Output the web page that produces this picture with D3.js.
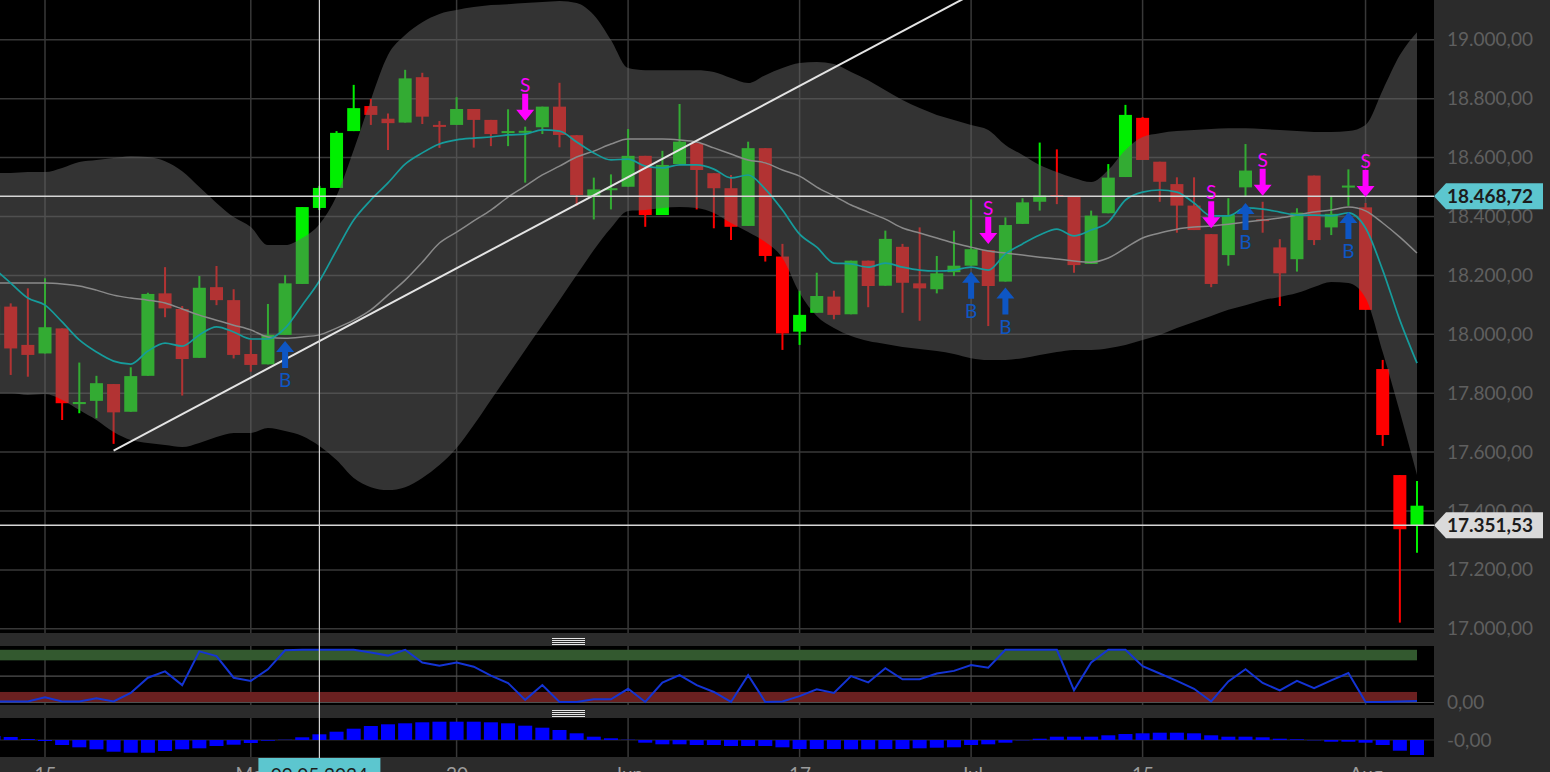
<!DOCTYPE html>
<html><head><meta charset="utf-8">
<script src="https://cdn.jsdelivr.net/npm/d3@7"></script>
<style>
html,body{margin:0;padding:0;background:#000;overflow:hidden}
svg{display:block;font-family:Lato,"Open Sans",sans-serif}
</style></head><body>
<svg id="chart" width="1550" height="772"></svg>
<script>
// ---------------- DATA ----------------
const dates = ["2024-04-10","2024-04-11","2024-04-12","2024-04-15","2024-04-16","2024-04-17","2024-04-18","2024-04-19","2024-04-22","2024-04-23","2024-04-24","2024-04-25","2024-04-26","2024-04-29","2024-04-30","2024-05-02","2024-05-03","2024-05-06","2024-05-07","2024-05-08","2024-05-09","2024-05-10","2024-05-13","2024-05-14","2024-05-15","2024-05-16","2024-05-17","2024-05-20","2024-05-21","2024-05-22","2024-05-23","2024-05-24","2024-05-27","2024-05-28","2024-05-29","2024-05-30","2024-05-31","2024-06-03","2024-06-04","2024-06-05","2024-06-06","2024-06-07","2024-06-10","2024-06-11","2024-06-12","2024-06-13","2024-06-14","2024-06-17","2024-06-18","2024-06-19","2024-06-20","2024-06-21","2024-06-24","2024-06-25","2024-06-26","2024-06-27","2024-06-28","2024-07-01","2024-07-02","2024-07-03","2024-07-04","2024-07-05","2024-07-08","2024-07-09","2024-07-10","2024-07-11","2024-07-12","2024-07-15","2024-07-16","2024-07-17","2024-07-18","2024-07-19","2024-07-22","2024-07-23","2024-07-24","2024-07-25","2024-07-26","2024-07-29","2024-07-30","2024-07-31","2024-08-01","2024-08-02","2024-08-05","2024-08-06"];

const open  = [17964,18094,17964,17935,18020,17763,17774,17831,17737,17859,18139,18086,17920,18160,18116,17933,17898,17998,18171,18429,18497,18690,18775,18732,18719,18873,18711,18711,18765,18728,18685,18687,18703,18773,18676,18467,18490,18501,18606,18405,18578,18649,18547,18496,18368,18632,18264,18009,18073,18128,18068,18250,18165,18297,18173,18153,18211,18233,18286,18179,18375,18450,18473,18470,18239,18411,18534,18735,18586,18510,18437,18340,18269,18499,18391,18295,18255,18539,18363,18501,18431,17882,17522,17350];
const high  = [18116,18105,18156,18190,18020,17904,17859,17831,17888,18141,18228,18096,18198,18232,18153,17981,18103,18201,18432,18504,18690,18847,18799,18750,18898,18888,18724,18805,18765,18728,18764,18705,18773,18854,18676,18532,18543,18697,18606,18623,18782,18649,18547,18541,18654,18632,18307,18148,18209,18148,18250,18250,18352,18307,18363,18266,18352,18458,18286,18397,18462,18651,18628,18470,18420,18578,18779,18738,18586,18533,18533,18340,18462,18646,18450,18323,18428,18539,18470,18560,18446,17913,17522,17502];
const low   = [17940,17862,17856,17935,17709,17732,17715,17628,17737,17859,18058,17792,17920,18099,17918,17873,17898,17998,18171,18422,18497,18690,18711,18626,18719,18714,18633,18711,18634,18639,18639,18515,18680,18635,18437,18390,18424,18501,18365,18405,18578,18424,18360,18320,18368,18247,17947,17964,18073,18051,18068,18092,18165,18073,18046,18139,18198,18233,18028,18179,18375,18420,18442,18209,18239,18411,18534,18592,18450,18345,18354,18160,18233,18466,18345,18096,18213,18303,18337,18436,18083,17621,17021,17258];
const close = [18099,17952,17930,18024,17766,17770,17834,17735,17858,18137,18088,17916,18158,18116,17930,17896,17998,18173,18432,18497,18684,18768,18745,18717,18869,18739,18705,18765,18728,18680,18690,18691,18773,18677,18473,18492,18496,18606,18405,18575,18654,18558,18496,18365,18632,18266,18003,18066,18130,18066,18250,18164,18324,18175,18156,18207,18233,18289,18164,18371,18448,18471,18467,18235,18403,18532,18745,18592,18518,18437,18354,18171,18405,18556,18386,18207,18413,18320,18409,18505,18083,17658,17338,17418];

const upperBand  = [18548,18548,18551,18551,18565,18585,18592,18599,18605,18602,18588,18554,18500,18446,18398,18364,18303,18303,18327,18374,18470,18626,18796,18948,19016,19060,19088,19101,19111,19118,19121,19125,19128,19132,19125,19084,18999,18904,18897,18897,18897,18897,18891,18870,18853,18880,18904,18921,18925,18918,18891,18863,18829,18796,18768,18745,18728,18711,18694,18643,18609,18575,18551,18531,18517,18558,18626,18670,18683,18690,18694,18697,18700,18700,18697,18694,18690,18687,18687,18690,18711,18829,18948,19026];
const middleBand = [18174,18174,18174,18174,18171,18164,18150,18133,18123,18116,18106,18086,18065,18048,18031,18015,17991,17987,17991,17998,18021,18048,18083,18133,18184,18245,18310,18347,18385,18422,18466,18503,18541,18571,18602,18622,18646,18663,18663,18663,18660,18653,18633,18612,18592,18582,18558,18537,18500,18470,18439,18415,18391,18361,18344,18327,18310,18296,18283,18276,18269,18262,18256,18249,18245,18259,18293,18327,18344,18357,18364,18368,18374,18381,18388,18395,18405,18415,18422,18432,18419,18378,18330,18276];
const lowerBand  = [17801,17801,17794,17797,17777,17743,17709,17668,17641,17631,17624,17617,17631,17651,17665,17665,17682,17672,17655,17621,17573,17512,17481,17471,17481,17512,17556,17614,17692,17777,17862,17947,18031,18116,18201,18286,18361,18419,18422,18429,18432,18429,18412,18378,18347,18313,18259,18140,18062,18021,17994,17977,17967,17957,17950,17943,17933,17919,17913,17913,17919,17930,17940,17947,17947,17953,17964,17981,17998,18021,18042,18062,18083,18099,18116,18127,18140,18161,18178,18174,18123,17940,17736,17522];
const fastAverage = [18225,18174,18123,18099,18042,17981,17940,17909,17899,17943,17970,17960,17998,18025,18008,17984,17984,18021,18099,18181,18286,18388,18456,18514,18578,18616,18646,18660,18666,18670,18677,18680,18694,18690,18653,18616,18592,18595,18571,18565,18575,18575,18561,18531,18541,18493,18422,18340,18296,18242,18239,18228,18242,18228,18218,18215,18218,18228,18218,18273,18307,18337,18357,18334,18354,18381,18456,18483,18490,18483,18446,18402,18402,18429,18425,18415,18405,18405,18402,18412,18361,18218,18048,17902];

const oscillator = [2,2,2,10,2,2,8,2,18,47,59,33,97,88,47,41,63,99,100,100,100,100,95,89,100,76,70,76,68,51,37,5,33,1,1,6,6,26,1,38,52,33,20,1,52,1,2,12,25,18,50,38,65,44,44,55,60,71,66,100,100,100,100,23,76,100,100,69,55,41,26,2,40,63,37,23,41,27,42,56,1,1,2,3];
const histogram  = [4,3,1,-1,-5,-7.3,-9.3,-11.7,-12.7,-12.7,-11,-9.3,-8.3,-6,-4.7,-3,-0.7,0.3,2.7,5.7,8.3,11.3,14,15.7,16.7,17.7,18.3,18.3,18.3,17.7,16.7,14.3,12.3,10,6.7,3.3,1.7,0.3,-2.7,-4.3,-4.3,-5,-5,-6,-6,-6,-7.3,-9,-9,-9,-9.3,-9.3,-9,-9,-8.3,-7.7,-7.3,-5,-4.3,-2.7,-0.3,1.3,3.3,3.3,3.3,4.7,6,6.7,7.3,7.3,6.7,4.7,3.3,3.3,2.7,1.3,0.7,-0.3,-1.7,-1.7,-2.7,-5,-10.7,-15];

const sellSignals = ["2024-05-24","2024-07-02","2024-07-19","2024-07-24","2024-08-01"];
const buySignals  = ["2024-05-06","2024-07-01","2024-07-03","2024-07-23","2024-07-31"];

const trendStart = ["2024-04-19", 17605];
const trendEnd   = ["2024-07-03", 19215];

const priceLines = [18468.72, 17351.53];
const crossDate = "2024-05-08";
const crossLabel = "09.05.2024";

const priceTicks = [17000,17200,17400,17600,17800,18000,18200,18400,18600,18800,19000];
const xTickDates  = ["2024-04-15","2024-05-02","2024-05-20","2024-06-03","2024-06-17","2024-07-01","2024-07-15","2024-08-01"];
const xTickLabels = ["15","Mai","20","Jun","17","Jul","15","Aug"];

// ---------------- LAYOUT ----------------
const W = 1550, H = 772, plotR = 1434;
const mainTop = 0, mainBot = 633, ind1Top = 646, ind1Bot = 705, ind2Top = 718, ind2Bot = 757;
const svg = d3.select("#chart");
const de = d3.formatLocale({decimal: ",", thousands: ".", grouping: [3], currency: ["", ""]});
const fmt = de.format(",.2f");

const x = d3.scalePoint().domain(dates).range([-6.45, 1417]);
const y = d3.scaleLinear().domain([17000, 19000]).range([628.8, 39.8]);
const yo = d3.scaleLinear().domain([0, 100]).range([702.5, 649.8]);
const yh = d3.scaleLinear().domain([-17, 17]).range([757, 723]);

svg.append("rect").attr("width", W).attr("height", H).attr("fill", "#000");
svg.append("rect").attr("x", plotR).attr("width", W - plotR).attr("height", H).attr("fill", "#2b2b2b");
[[mainBot, ind1Top], [ind1Bot, ind2Top], [ind2Bot, H]].forEach(([a, b]) =>
  svg.append("rect").attr("x", 0).attr("y", a).attr("width", W).attr("height", b - a).attr("fill", "#2b2b2b"));

const defs = svg.append("defs");
defs.append("clipPath").attr("id", "clipMain").append("rect").attr("x", 0).attr("y", mainTop).attr("width", plotR).attr("height", mainBot - mainTop);
defs.append("clipPath").attr("id", "clipInd1").append("rect").attr("x", 0).attr("y", ind1Top).attr("width", plotR).attr("height", ind1Bot - ind1Top);
defs.append("clipPath").attr("id", "clipInd2").append("rect").attr("x", 0).attr("y", ind2Top).attr("width", plotR).attr("height", ind2Bot - ind2Top);

const gridColor = "#383838";
// ---------- main panel ----------
const gm = svg.append("g").attr("clip-path", "url(#clipMain)");
gm.selectAll("line.hg").data(priceTicks).join("line")
  .attr("x1", 0).attr("x2", plotR).attr("y1", d => y(d)).attr("y2", d => y(d))
  .attr("stroke", gridColor).attr("stroke-width", 1.5);
gm.selectAll("line.vg").data(xTickDates).join("line")
  .attr("x1", d => x(d)).attr("x2", d => x(d)).attr("y1", mainTop).attr("y2", mainBot)
  .attr("stroke", gridColor).attr("stroke-width", 1.5);

const candles = dates.map((d, k) => ({d, o: open[k], h: high[k], l: low[k], c: close[k]}));
const col = c => c.c >= c.o ? "#00f000" : "#ff0000";
const cg = gm.append("g");
cg.selectAll("line").data(candles).join("line")
  .attr("x1", d => x(d.d)).attr("x2", d => x(d.d))
  .attr("y1", d => y(d.h)).attr("y2", d => y(d.l))
  .attr("stroke", col).attr("stroke-width", 2);
cg.selectAll("rect").data(candles).join("rect")
  .attr("x", d => x(d.d) - 6.5).attr("width", 13)
  .attr("y", d => y(Math.max(d.o, d.c)))
  .attr("height", d => Math.max(2, Math.abs(y(d.o) - y(d.c))))
  .attr("fill", col);

// Bollinger band overlay
const bandData = dates.map((d, k) => ({d, u: upperBand[k], m: middleBand[k], l: lowerBand[k], f: fastAverage[k]}));
gm.append("path").datum(bandData)
  .attr("d", d3.area().x(d => x(d.d)).y0(d => y(d.l)).y1(d => y(d.u)).curve(d3.curveMonotoneX))
  .attr("fill", "rgba(102,102,102,0.5)");
gm.append("path").datum(bandData)
  .attr("d", d3.line().x(d => x(d.d)).y(d => y(d.m)).curve(d3.curveMonotoneX))
  .attr("fill", "none").attr("stroke", "#8a8a8a").attr("stroke-width", 1.5);
gm.append("path").datum(bandData)
  .attr("d", d3.line().x(d => x(d.d)).y(d => y(d.f)).curve(d3.curveMonotoneX))
  .attr("fill", "none").attr("stroke", "#169c9c").attr("stroke-width", 1.7);

// trend line
gm.append("line")
  .attr("x1", x(trendStart[0])).attr("y1", y(trendStart[1]))
  .attr("x2", x(trendEnd[0])).attr("y2", y(trendEnd[1]))
  .attr("stroke", "#e4e4e4").attr("stroke-width", 2);

// horizontal price lines
gm.selectAll("line.pl").data(priceLines).join("line")
  .attr("x1", 0).attr("x2", plotR).attr("y1", d => y(d)).attr("y2", d => y(d))
  .attr("stroke", "#d6d6d6").attr("stroke-width", 1.5);

// signals
const byDate = new Map(candles.map(c => [c.d, c]));
const sg = gm.append("g");
sellSignals.forEach(d => {
  const cx = x(d), t = y(byDate.get(d).h) - 6;
  const g = sg.append("g").attr("transform", `translate(${cx},${t})`);
  g.append("path").attr("d", "M-3,-27H3V-11H9L0,0L-9,-11H-3Z").attr("fill", "#ff00ff");
  g.append("text").attr("y", -29).attr("text-anchor", "middle").attr("font-size", 19).attr("fill", "#ff00ff").text("S");
});
buySignals.forEach(d => {
  const cx = x(d), t = y(byDate.get(d).l) + 6;
  const g = sg.append("g").attr("transform", `translate(${cx},${t})`);
  g.append("path").attr("d", "M0,0L9,11H3V27H-3V11H-9Z").attr("fill", "#0e56c4");
  g.append("text").attr("y", 46).attr("text-anchor", "middle").attr("font-size", 19).attr("fill", "#0e56c4").text("B");
});

// ---------- oscillator panel ----------
const g1 = svg.append("g").attr("clip-path", "url(#clipInd1)");
g1.selectAll("line.vg").data(xTickDates).join("line")
  .attr("x1", d => x(d)).attr("x2", d => x(d)).attr("y1", ind1Top).attr("y2", ind1Bot)
  .attr("stroke", gridColor).attr("stroke-width", 1.5);
g1.append("rect").attr("x", 0).attr("width", x(dates[dates.length - 1]))
  .attr("y", yo(100)).attr("height", yo(80) - yo(100)).attr("fill", "#33592f");
g1.append("rect").attr("x", 0).attr("width", x(dates[dates.length - 1]))
  .attr("y", yo(20)).attr("height", yo(0) - yo(20)).attr("fill", "#6a2020");
[50, 0].forEach(v => g1.append("line").attr("x1", 0).attr("x2", plotR).attr("y1", yo(v)).attr("y2", yo(v))
  .attr("stroke", "#505050").attr("stroke-width", 1.2));
g1.append("path").datum(oscillator)
  .attr("d", d3.line().x((v, k) => x(dates[k])).y(v => yo(v)))
  .attr("fill", "none").attr("stroke", "#1434d4").attr("stroke-width", 2);

// ---------- histogram panel ----------
const g2 = svg.append("g").attr("clip-path", "url(#clipInd2)");
g2.selectAll("line.vg").data(xTickDates).join("line")
  .attr("x1", d => x(d)).attr("x2", d => x(d)).attr("y1", ind2Top).attr("y2", ind2Bot)
  .attr("stroke", gridColor).attr("stroke-width", 1.5);
g2.append("line").attr("x1", 0).attr("x2", plotR).attr("y1", yh(0)).attr("y2", yh(0))
  .attr("stroke", "#303030").attr("stroke-width", 1.2);
g2.selectAll("rect").data(histogram).join("rect")
  .attr("x", (v, k) => x(dates[k]) - 7).attr("width", 14)
  .attr("y", v => Math.min(yh(0), yh(v))).attr("height", v => Math.abs(yh(v) - yh(0)))
  .attr("fill", "#0000ff");

// handles
[[638.5], [710.5]].forEach(([y0]) => {
  for (let i = 0; i < 4; i++)
    svg.append("line").attr("x1", 552).attr("x2", 585).attr("y1", y0 + i * 2).attr("y2", y0 + i * 2)
      .attr("stroke", "#e6e6e6").attr("stroke-width", 1.1);
});

// crosshair
svg.append("line").attr("x1", x(crossDate)).attr("x2", x(crossDate)).attr("y1", 0).attr("y2", 758)
  .attr("stroke", "#d2d2d2").attr("stroke-width", 1.2);

// ---------- axes ----------
const ax = svg.append("g").attr("transform", `translate(${plotR},0)`)
  .call(d3.axisRight(y).tickValues(priceTicks).tickFormat(fmt).tickSize(0).tickPadding(13));
ax.select(".domain").remove();
ax.selectAll("text").attr("font-size", 19).attr("fill", "#5f5f5f").attr("font-family", "Lato");

const ax1 = svg.append("g").attr("transform", `translate(${plotR},0)`)
  .call(d3.axisRight(yo).tickValues([0]).tickFormat(() => "0,00").tickSize(0).tickPadding(13));
ax1.select(".domain").remove();
ax1.selectAll("text").attr("font-size", 19).attr("fill", "#5f5f5f").attr("font-family", "Lato");

const ax2 = svg.append("g").attr("transform", `translate(${plotR},0)`)
  .call(d3.axisRight(yh).tickValues([0]).tickFormat(() => "-0,00").tickSize(0).tickPadding(13));
ax2.select(".domain").remove();
ax2.selectAll("text").attr("font-size", 19).attr("fill", "#5f5f5f").attr("font-family", "Lato");

const axb = svg.append("g").attr("transform", `translate(0,${ind2Bot})`)
  .call(d3.axisBottom(x).tickValues(xTickDates).tickFormat((d, i) => xTickLabels[i]).tickSize(0).tickPadding(11));
axb.select(".domain").remove();
axb.selectAll("text").attr("font-size", 19).attr("fill", "#9c9c9c").attr("font-family", "Lato");

// price tags
function priceTag(v, fill) {
  const yy = y(v);
  svg.append("path")
    .attr("d", `M${plotR},${yy}L${plotR + 12},${yy - 13}H1543V${yy + 13}H${plotR + 12}Z`)
    .attr("fill", fill);
  svg.append("text").attr("x", 1447).attr("y", yy).attr("dy", "0.35em")
    .attr("font-size", 19).attr("font-weight", 700).attr("fill", "#1c1c1c").text(fmt(v));
}
priceTag(priceLines[0], "#5cc6cf");
priceTag(priceLines[1], "#dadada");

// date tag
const cx = x(crossDate);
svg.append("rect").attr("x", cx - 61).attr("y", 758).attr("width", 122).attr("height", 20).attr("fill", "#5cc6cf");
svg.append("text").attr("x", cx).attr("y", 781.5).attr("text-anchor", "middle")
  .attr("font-size", 19).attr("fill", "#1c1c1c").text(crossLabel);
</script>
</body></html>
